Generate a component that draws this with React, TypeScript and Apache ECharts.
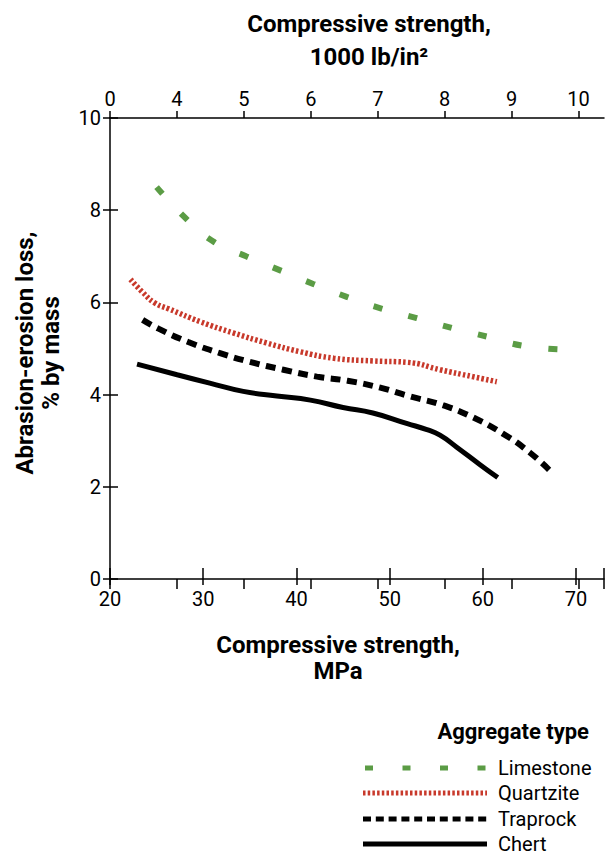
import React, { useEffect, useRef } from "react";
import * as echarts from "echarts";

const limestone: [number, number][] = [
  [25.0, 8.5], [28.0, 7.85], [31.0, 7.33], [34.6, 7.0], [38.2, 6.7], [41.8, 6.4],
  [45.4, 6.12], [49.2, 5.86], [52.9, 5.66], [56.8, 5.44], [60.6, 5.25], [64.3, 5.06], [68.3, 4.98],
];
const quartzite: [number, number][] = [
  [22.2, 6.5], [23.5, 6.22], [24.8, 5.99], [26.3, 5.86], [29.7, 5.58], [33.2, 5.34],
  [36.8, 5.12], [40.4, 4.93], [44.0, 4.79], [48.2, 4.73], [51.9, 4.7], [55.4, 4.54],
  [58.9, 4.39], [61.5, 4.28],
];
const traprock: [number, number][] = [
  [23.5, 5.62], [25.2, 5.43], [28.4, 5.14], [31.8, 4.9], [35.0, 4.71], [38.6, 4.54],
  [42.2, 4.39], [45.5, 4.3], [49.0, 4.15], [52.2, 3.96], [55.7, 3.77], [58.9, 3.51],
  [62.1, 3.16], [65.0, 2.75], [67.6, 2.27],
];
const chert: [number, number][] = [
  [22.9, 4.66], [27.2, 4.43], [30.7, 4.25], [34.3, 4.07], [37.9, 3.97], [41.5, 3.88],
  [45.0, 3.72], [48.2, 3.6], [51.9, 3.37], [54.0, 3.24], [55.4, 3.12], [57.2, 2.86],
  [59.7, 2.48], [61.6, 2.2],
];

const seriesNames = ["Limestone", "Quartzite", "Traprock", "Chert"];
const seriesData = [limestone, quartzite, traprock, chert];
const yTicks = { min: 0, max: 10, interval: 2 };
const mpaAxis = { min: 20, max: 73, interval: 10 };
const psiAxis = { min: 3, max: 10.38, interval: 1 };
const psiFirstLabel = "0";

const FONT = 'Roboto, "Liberation Sans", sans-serif';
const GREEN = "#5b9c45";
const RED = "#c8392b";

const lineStyles = [
  { color: GREEN, width: 6, type: [9, 27] as number[] | string, legendDash: [8, 29.5] },
  { color: RED, width: 5.5, type: [2.5, 2.2], legendDash: [2.5, 2.2] },
  { color: "#000", width: 6, type: [10, 6.5], legendDash: [8, 4.8] },
  { color: "#000", width: 5, type: "solid", legendDash: null as number[] | null },
];

export default function App() {
  const ref = useRef<HTMLDivElement>(null);
  useEffect(() => {
    if (!ref.current) return;
    const chart = echarts.init(ref.current, undefined, { renderer: "svg" });
    const axisLine = { show: true, onZero: false, lineStyle: { color: "#000", width: 1.5 } };
    const labelStyle = { color: "#000", fontSize: 20, fontFamily: FONT };
    const hidden = { show: false };
    const tick = (inside: boolean, length: number) => ({
      show: true, inside, length, lineStyle: { color: "#000", width: 1.5 },
    });

    const legendY = [768, 793, 819, 844];
    const legendGraphics: any[] = [];
    seriesNames.forEach((name, i) => {
      const ls = lineStyles[i];
      legendGraphics.push({
        type: "line",
        shape: { x1: i === 0 ? 365 : 363, y1: legendY[i], x2: 487, y2: legendY[i] },
        style: {
          stroke: ls.color, lineWidth: 5,
          lineDash: ls.legendDash || undefined,
        },
      });
      legendGraphics.push({
        type: "text",
        x: 498, y: legendY[i],
        style: {
          text: name, fill: "#000", font: `20px ${FONT}`,
          textAlign: "left", textVerticalAlign: "middle",
        },
      });
    });

    chart.setOption({
      animation: false,
      backgroundColor: "#fff",
      grid: { left: 110, right: 1, top: 118, bottom: 278, containLabel: false },
      xAxis: [
        {
          type: "value", position: "bottom", ...mpaAxis,
          axisLine, splitLine: hidden, axisTick: tick(false, 6),
          axisLabel: { ...labelStyle, margin: 10, showMaxLabel: false },
        },
        {
          type: "value", position: "bottom", ...mpaAxis,
          axisLine: hidden, splitLine: hidden, axisLabel: hidden, axisTick: tick(true, 11),
        },
        {
          type: "value", position: "top", ...psiAxis,
          axisLine, splitLine: hidden, axisTick: tick(false, 7),
          axisLabel: {
            ...labelStyle, margin: 9, showMaxLabel: false,
            formatter: (v: number) => (v === psiAxis.min ? psiFirstLabel : String(v)),
          },
        },
        {
          type: "value", position: "top", ...psiAxis,
          axisLine: hidden, splitLine: hidden, axisLabel: hidden, axisTick: tick(true, 10),
        },
      ],
      yAxis: [
        {
          type: "value", position: "left", ...yTicks,
          axisLine, splitLine: hidden, axisTick: tick(false, 7),
          axisLabel: { ...labelStyle, margin: 9 },
        },
        {
          type: "value", position: "left", ...yTicks,
          axisLine: hidden, splitLine: hidden, axisLabel: hidden, axisTick: tick(true, 8),
        },
      ],
      graphic: [
        {
          type: "text", x: 369, y: 7,
          style: {
            text: "Compressive strength,\n1000 lb/in²", fill: "#000",
            font: `bold 24px ${FONT}`, textAlign: "center", textVerticalAlign: "top", lineHeight: 33,
          },
        },
        {
          type: "text", x: 338, y: 632,
          style: {
            text: "Compressive strength,\nMPa", fill: "#000", font: `bold 24px ${FONT}`,
            textAlign: "center", textVerticalAlign: "top", lineHeight: 26,
          },
        },
        {
          type: "text", x: 38, y: 353, rotation: Math.PI / 2,
          style: {
            text: "Abrasion-erosion loss,\n% by mass", fill: "#000", font: `bold 24px ${FONT}`,
            textAlign: "center", textVerticalAlign: "middle", lineHeight: 26,
          },
        },
        {
          type: "text", x: 589, y: 731,
          style: {
            text: "Aggregate type", fill: "#000", font: `bold 22px ${FONT}`,
            textAlign: "right", textVerticalAlign: "middle",
          },
        },
        ...legendGraphics,
      ],
      series: seriesNames.map((name, i) => ({
        name, type: "line", data: seriesData[i], smooth: true, symbol: "none",
        lineStyle: { color: lineStyles[i].color, width: lineStyles[i].width, type: lineStyles[i].type },
        itemStyle: { color: lineStyles[i].color },
      })),
    });
    return () => chart.dispose();
  }, []);
  return <div ref={ref} style={{ width: 605, height: 857, position: "absolute", left: 0, top: 0 }} />;
}
